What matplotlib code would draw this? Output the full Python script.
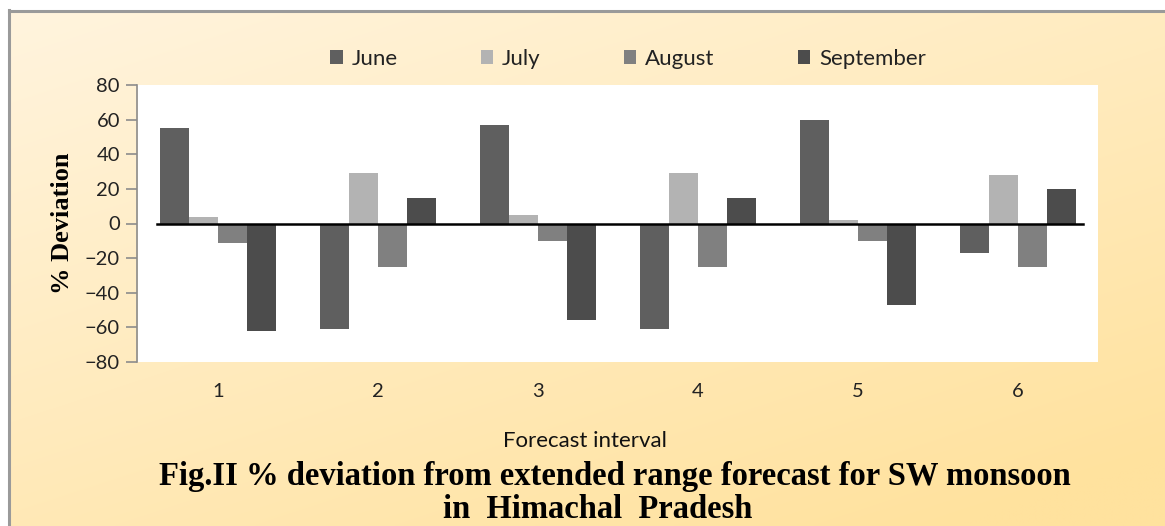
import numpy as np
import matplotlib.pyplot as plt
from matplotlib.lines import Line2D

# % deviation per forecast interval, one series per month
intervals = ['1', '2', '3', '4', '5', '6']
months = ['June', 'July', 'August', 'September']
june = [55, -61, 57, -61, 60, -17]
july = [4, 29, 5, 29, 2, 28]
august = [-11, -25, -10, -25, -10, -25]
september = [-62, 15, -56, 15, -47, 20]
colors = ['#5f5f5f', '#b3b3b3', '#808080', '#4c4c4c']

W, H = 1165, 526
fig = plt.figure(figsize=(W / 100, H / 100), dpi=100)
fig.patch.set_facecolor('white')

# gradient panel behind the chart
bg = fig.add_axes([0, 0, 1, 1], zorder=0)
bg.set_xlim(0, W)
bg.set_ylim(H, 0)
bg.axis('off')
yy, xx = np.mgrid[0:1:200j, 0:1:400j]
t = np.clip((xx * 0.55 + yy * 0.75) / 1.2, 0, 1)[..., None]
c0 = np.array([255, 244, 222]) / 255
c1 = np.array([255, 226, 158]) / 255
grad = c0 * (1 - t) + c1 * t
bg.imshow(grad, extent=(9, W, H, 11), aspect='auto', interpolation='bilinear')
bg.add_line(Line2D([9, W], [10.5, 10.5], color='#9a9a9a', lw=2.2))
bg.add_line(Line2D([8.5, 8.5], [10, H], color='#9a9a9a', lw=2.2))

ax = fig.add_axes([138 / W, 1 - 362 / H, 960 / W, 277 / H], zorder=1)
ax.set_facecolor('white')

x = np.arange(len(intervals))
bw = 1 / 5.5
series = [june, july, august, september]
for i, (vals, c) in enumerate(zip(series, colors)):
    ax.bar(x + (i - 1.5) * bw, vals, width=bw, color=c, label=months[i], zorder=2)

ax.set_xlim(-0.5, len(intervals) - 0.5)
ax.set_ylim(-80, 80)
ax.set_yticks(range(-80, 81, 20))
ax.axhline(0, xmin=0.02, xmax=0.984, color='black', lw=1.8, zorder=3)

for s in ['top', 'right', 'bottom']:
    ax.spines[s].set_visible(False)
ax.spines['left'].set_color('#8c8c8c')
ax.spines['left'].set_linewidth(1.2)
ax.spines['left'].set_position(('outward', 1))
ax.tick_params(axis='y', direction='out', length=8, width=1.2, color='#8c8c8c',
               labelsize=14.5, pad=4)
ax.tick_params(axis='x', length=0, labelsize=14.5, pad=15)
ax.set_xticks(x)
ax.set_xticklabels(intervals)
for lab in ax.get_xticklabels() + ax.get_yticklabels():
    lab.set_fontfamily('Lato')
    lab.set_color('#222222')

ax.set_ylabel('% Deviation', fontfamily='Liberation Serif', fontweight='bold',
              fontsize=19, labelpad=8)

leg = ax.legend(loc='center', bbox_to_anchor=(628 / W, 1 - 59 / H),
                bbox_transform=fig.transFigure, ncol=4, frameon=False,
                prop={'family': 'Lato', 'size': 16}, handlelength=0.55,
                handleheight=0.55, columnspacing=3.75, handletextpad=0.4)
for txt in leg.get_texts():
    txt.set_color('#222222')

fig.text(585 / W, 1 - 441 / H, 'Forecast interval', ha='center', va='center',
         fontfamily='Lato', fontsize=16, color='#111111')
fig.text(615 / W, 1 - 476 / H,
         'Fig.II % deviation from extended range forecast for SW monsoon',
         ha='center', va='center', fontfamily='Liberation Serif',
         fontweight='bold', fontsize=23.5)
fig.text(598 / W, 1 - 510 / H, 'in  Himachal  Pradesh', ha='center', va='center',
         fontfamily='Liberation Serif', fontweight='bold', fontsize=23.5)

fig.savefig('out.png', dpi=100)
